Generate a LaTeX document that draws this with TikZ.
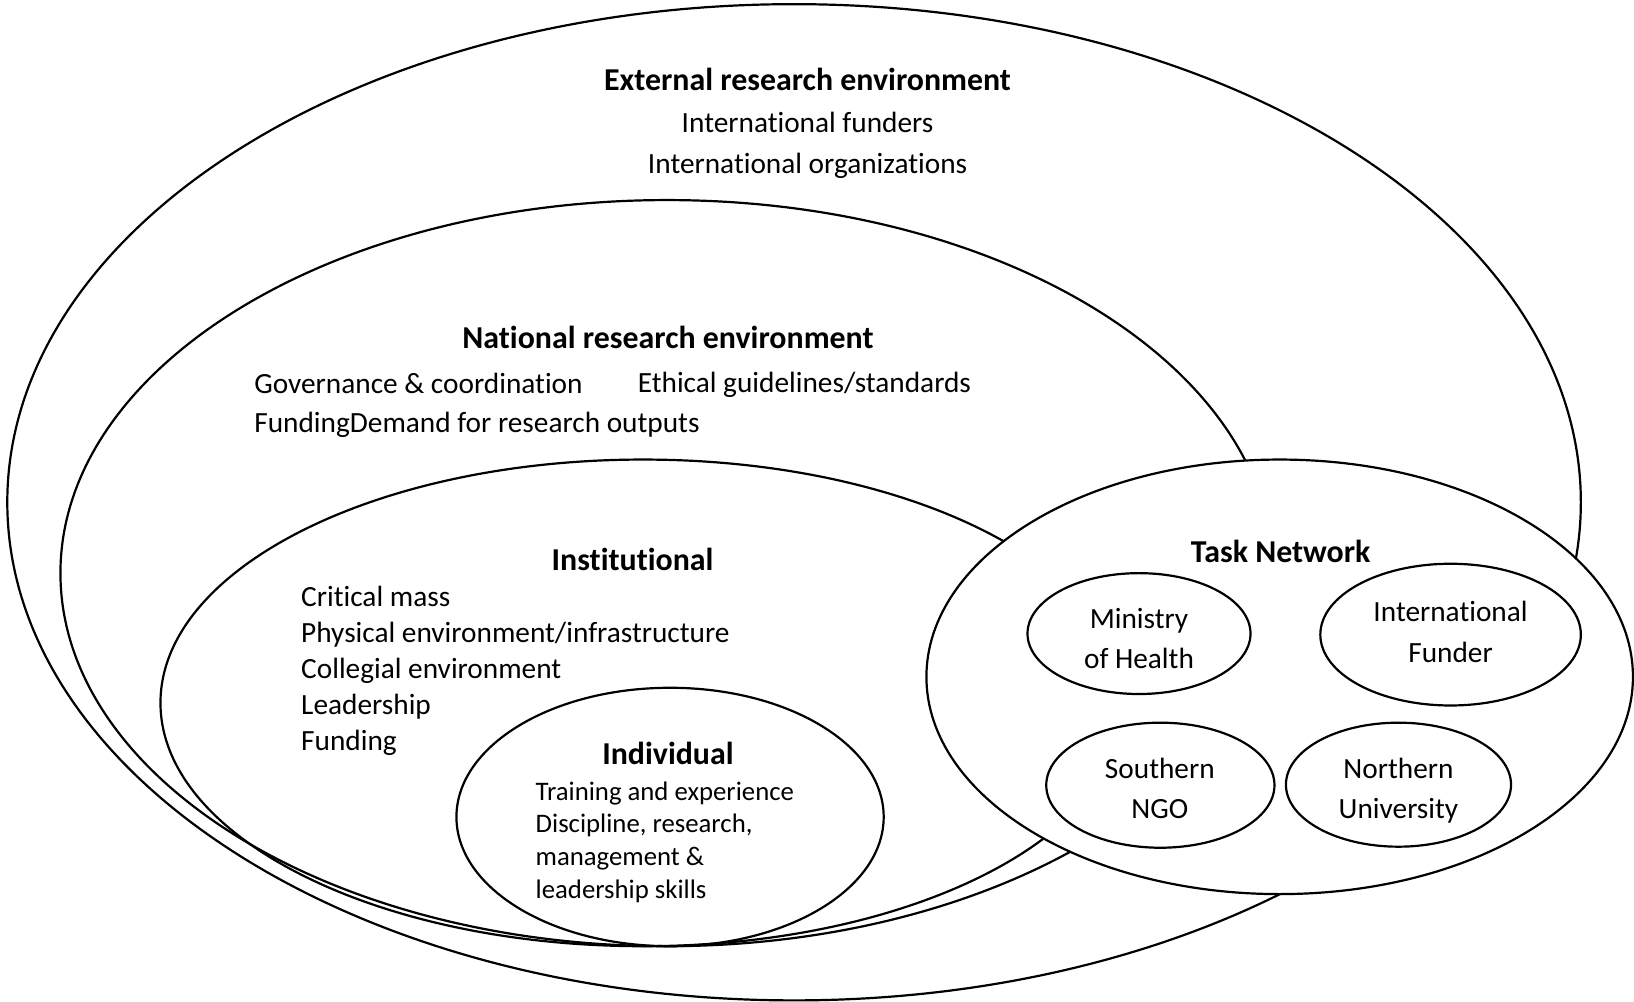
\documentclass[tikz,border=0pt]{standalone}
\usepackage{fontspec}
\setmainfont[Ligatures=NoCommon]{Carlito}

\tikzset{
  head/.style={font=\fontsize{8.7}{10}\selectfont\bfseries},
  item/.style={font=\fontsize{8}{9.8}\selectfont, align=left, anchor=west, inner sep=0pt},
  small/.style={font=\fontsize{7.3}{8.9}\selectfont, align=left, anchor=north west, inner sep=0pt},
  member/.style={font=\fontsize{8}{11}\selectfont, align=center}
}

\begin{document}
\begin{tikzpicture}[x=0.01cm, y=-0.01cm, line width=0.6pt]
\useasboundingbox (0,0) rectangle (1568,961.5);
% Centres of the rings
\coordinate (external) at (762,482);
\coordinate (national) at (640,550);
\coordinate (institutional) at (617,674.5);
\coordinate (individual) at (643,784);
\coordinate (task) at (1228,649.5);
% Draw nested rings
\draw (external) ellipse [x radius=755, y radius=478];
\draw (national) ellipse [x radius=582, y radius=358];
\draw (institutional) ellipse [x radius=463, y radius=233.5];
\draw (individual) ellipse [x radius=205, y radius=124];
% Task network on top
\draw[fill=white] (task) ellipse [x radius=339, y radius=208.5];
\draw (1093,608) ellipse [x radius=107, y radius=58];
\draw (1392,609) ellipse [x radius=125, y radius=68];
\draw (1113.5,753.5) ellipse [x radius=109.5, y radius=60];
\draw (1342,753) ellipse [x radius=108, y radius=59.5];
% External research environment
\node[head] (exthead) at (775,76) {External research environment};
\node[member] (extlist) at (775,139.5) {International funders\\International organizations};
% National research environment
\node[head] (nathead) at (641,324) {National research environment};
\node[item] (governance) at (243,368) {Governance \& coordination};
\node[item] (ethical) at (611,369) {Ethical guidelines/standards};
\node[item] (demand) at (243,408) {FundingDemand for research outputs};
% Institutional
\node[head] (insthead) at (607,537) {Institutional};
\node[item] (instlist) at (288,644) {Critical mass\\Physical environment/infrastructure\\Collegial environment\\Leadership\\Funding};
% Individual
\node[small] (indlist) at (513,749) {Training and experience\\Discipline, research,\\management \&\\leadership skills};
\node[head] (indhead) at (641,723) {Individual};
% Task network
\node[head] (taskhead) at (1229,529) {Task Network};
\node[member] (ministry) at (1093,613) {Ministry\\of Health};
\node[member] (funder) at (1392,606.5) {International\\Funder};
\node[member] (ngo) at (1113,756.5) {Southern\\NGO};
\node[member] (university) at (1342,758.5) {Northern\\University};
\end{tikzpicture}
\end{document}
